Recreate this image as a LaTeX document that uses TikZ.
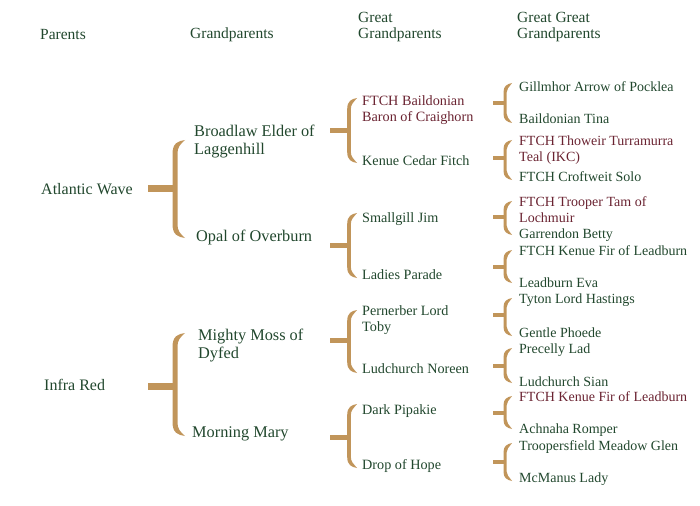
\documentclass[tikz,border=0pt]{standalone}
\usepackage{fontspec}
\setmainfont{Liberation Serif}
\definecolor{txtgreen}{HTML}{21472D}
\definecolor{txtred}{HTML}{6A2331}
\definecolor{brktan}{HTML}{C1955A}
\newcommand\brk[9]{%
  \draw[stub, line width=#8] (#1,#5) -- (#2,#5);
  \fill[brkfill] ({#2+#7},#3) .. controls ({#2+0.3*#7},{#3+1}) and ({#2-#6},{#3+3}) .. ({#2-#6},{#3+#9})
   -- ({#2-#6},{#4-#9}) .. controls ({#2-#6},{#4-3}) and ({#2+0.3*#7},{#4-1}) .. ({#2+#7},#4)
   .. controls ({#2+0.5*#7},{#4-5}) and ({#2+#6},{#4-6}) .. ({#2+#6},{#4-#9-1})
   -- ({#2+#6},{#3+#9+1}) .. controls ({#2+#6},{#3+6}) and ({#2+0.5*#7},{#3+5}) .. cycle;
}
\tikzset{
  lbl/.style={anchor=west, inner sep=0pt, align=left, text=txtgreen, yshift=-0.8pt},
  hdr/.style={lbl, font=\fontsize{15.5}{16}\selectfont},
  cA/.style={lbl, font=\fontsize{16}{18}\selectfont},
  cB/.style={lbl, font=\fontsize{16.3}{18}\selectfont},
  cC/.style={lbl, font=\fontsize{14.2}{16}\selectfont},
  cD/.style={lbl, font=\fontsize{14}{15.5}\selectfont},
  red/.style={text=txtred},
  stub/.style={draw=brktan},
  brkfill/.style={fill=brktan},
}
\begin{document}
\begin{tikzpicture}[x=1pt, y=-1pt]
\useasboundingbox (0,0) rectangle (700,505);
% headers
\node[hdr] (h1) at (40,34) {Parents};
\node[hdr] (h2) at (190,34) {Grandparents};
\node[hdr] (h3) at (358,26) {Great\\Grandparents};
\node[hdr] (h4) at (517,26) {Great Great\\Grandparents};
% parents
\node[cA] (p1) at (41,188) {Atlantic Wave};
\node[cA] (p2) at (44,384) {Infra Red};
% grandparents
\node[cB] (g1) at (194,141) {Broadlaw Elder of\\Laggenhill};
\node[cB] (g2) at (196,237) {Opal of Overburn};
\node[cB] (g3) at (198,344.5) {Mighty Moss of\\Dyfed};
\node[cB] (g4) at (192,433) {Morning Mary};
% great grandparents
\node[cC, red] (gg1) at (362,109) {FTCH Baildonian\\Baron of Craighorn};
\node[cC] (gg2) at (362,160) {Kenue Cedar Fitch};
\node[cC] (gg3) at (362,218) {Smallgill Jim};
\node[cC] (gg4) at (362,274) {Ladies Parade};
\node[cC] (gg5) at (362,319.5) {Pernerber Lord\\Toby};
\node[cC] (gg6) at (362,368) {Ludchurch Noreen};
\node[cC] (gg7) at (362,410) {Dark Pipakie};
\node[cC] (gg8) at (362,465) {Drop of Hope};
% great great grandparents
\node[cD] (ggg1) at (519,86) {Gillmhor Arrow of Pocklea};
\node[cD] (ggg2) at (519,118) {Baildonian Tina};
\node[cD, red] (ggg3) at (519,149.5) {FTCH Thoweir Turramurra\\Teal (IKC)};
\node[cD] (ggg4) at (519,176) {FTCH Croftweit Solo};
\node[cD, red] (ggg5) at (519,209) {FTCH Trooper Tam of\\Lochmuir};
\node[cD] (ggg6) at (519,234) {Garrendon Betty};
\node[cD] (ggg7) at (519,250) {FTCH Kenue Fir of Leadburn};
\node[cD] (ggg8) at (519,282) {Leadburn Eva};
\node[cD] (ggg9) at (519,299) {Tyton Lord Hastings};
\node[cD] (ggg10) at (519,332) {Gentle Phoede};
\node[cD] (ggg11) at (519,349) {Precelly Lad};
\node[cD] (ggg12) at (519,381) {Ludchurch Sian};
\node[cD, red] (ggg13) at (519,396) {FTCH Kenue Fir of Leadburn};
\node[cD] (ggg14) at (519,429) {Achnaha Romper};
\node[cD] (ggg15) at (519,446) {Troopersfield Meadow Glen};
\node[cD] (ggg16) at (519,478) {McManus Lady};
% brackets: xs, xv, yt, yb, ym, halfwidth, tipdx, stubwidth, hook
\brk{148}{175}{140}{238}{188}{2.5}{10}{7pt}{14}
\brk{148}{175}{333}{436}{386}{2.5}{10}{7pt}{14}
\brk{330}{349}{98}{163}{131}{1.8}{8}{5pt}{11}
\brk{330}{349}{213}{278}{245}{1.8}{8}{5pt}{11}
\brk{330}{349}{310}{373}{340}{1.8}{8}{5pt}{11}
\brk{330}{349}{404}{468}{437}{1.8}{8}{5pt}{11}
\brk{493}{505}{83}{123}{103}{1.5}{7}{4pt}{9}
\brk{493}{505}{140}{180}{158}{1.5}{7}{4pt}{9}
\brk{493}{505}{201}{235}{217}{1.5}{7}{4pt}{9}
\brk{493}{505}{250}{283}{267}{1.5}{7}{4pt}{9}
\brk{493}{505}{298}{336}{315}{1.5}{7}{4pt}{9}
\brk{493}{505}{348}{383}{366}{1.5}{7}{4pt}{9}
\brk{493}{505}{396}{429}{413}{1.5}{7}{4pt}{9}
\brk{493}{505}{443}{481}{462}{1.5}{7}{4pt}{9}
\end{tikzpicture}
\end{document}
